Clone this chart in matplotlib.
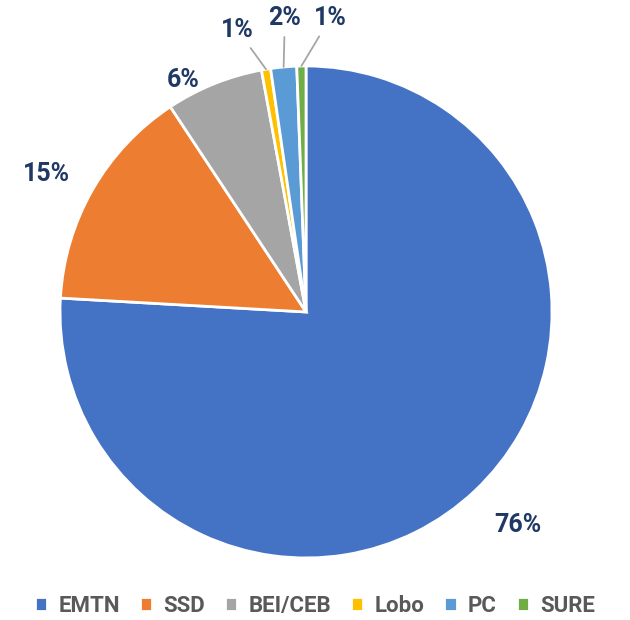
import matplotlib.pyplot as plt
import numpy as np

# datos
categorias = ['EMTN', 'SSD', 'BEI/CEB', 'Lobo', 'PC', 'SURE']
valores = [75.9, 14.8, 6.4, 0.6, 1.7, 0.6]
colores = ['#4472C4', '#ED7D31', '#A5A5A5', '#FFC000', '#5B9BD5', '#70AD47']

# posicion de cada etiqueta: (radio, desplazamiento angular en grados)
pos_etiquetas = [(1.22, 1.5), (1.195, 1.8), (1.067, 5.9), (1.18, 4.3), (1.198, -1.1), (1.199, -5.8)]
con_linea = [False, False, False, True, True, True]

plt.rcParams['font.family'] = ['Roboto', 'DejaVu Sans']

fig = plt.figure(figsize=(6.3, 6.2), dpi=100)
ax = fig.add_axes([0, 0, 1, 1])

wedges, _ = ax.pie(valores, colors=colores, startangle=90, counterclock=False,
                   radius=1.0, wedgeprops=dict(edgecolor='white', linewidth=2))

for w, v, (r, dt), linea in zip(wedges, valores, pos_etiquetas, con_linea):
    mid = np.deg2rad((w.theta1 + w.theta2) / 2)
    ang = mid + np.deg2rad(dt)
    txt = f'{v:.0f}%'
    tx, ty = r * np.cos(ang), r * np.sin(ang)
    if linea:
        ax.annotate(txt, xy=(1.0 * np.cos(mid), 1.0 * np.sin(mid)), xytext=(tx, ty),
                    ha='center', va='center', fontsize=18, fontweight='bold', color='#1F3864',
                    arrowprops=dict(arrowstyle='-', color='#A6A6A6', lw=1.3, shrinkA=3, shrinkB=0))
    else:
        ax.text(tx, ty, txt, ha='center', va='center', fontsize=18,
                fontweight='bold', color='#1F3864')

ax.set_xlim(-1.244, 1.317)
ax.set_ylim(-1.252, 1.268)
ax.set_aspect('equal')
ax.axis('off')

fig.legend(wedges, categorias, loc='center', bbox_to_anchor=(0.5, 0.023), ncol=6,
           frameon=False, handlelength=0.55, handleheight=0.55, handletextpad=0.5,
           columnspacing=0.9, prop={'size': 16, 'weight': 'bold'}, labelcolor='#595959')

fig.savefig('out.png', dpi=100)
